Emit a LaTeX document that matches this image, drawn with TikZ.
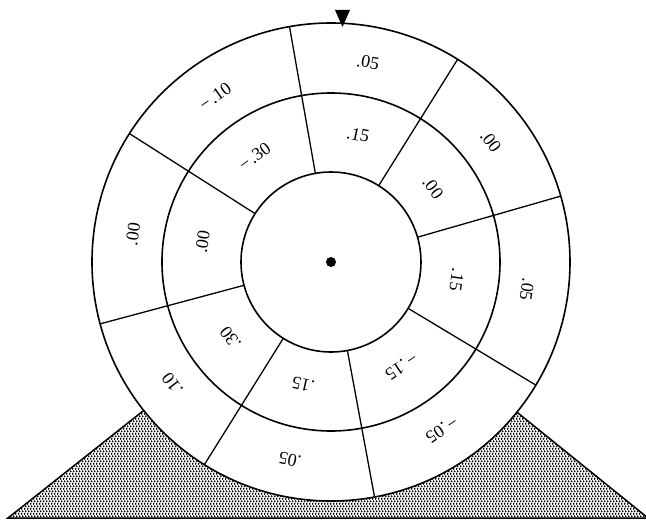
\documentclass[tikz,border=0pt]{standalone}
\usepackage{fontspec}
\setmainfont{Liberation Serif}
\usetikzlibrary{patterns.meta}
\tikzdeclarepattern{
  name=stipple,
  type=uncolored,
  bounding box={(0pt,0pt) and (3pt,5.4pt)},
  tile size={(3pt,5.4pt)},
  code={
    \fill (0.75pt,1.35pt) circle (1.25pt);
    \fill (2.25pt,4.05pt) circle (1.25pt);
  }
}
\begin{document}
\begin{tikzpicture}[x=1pt,y=1pt,
  ring/.style={line width=1.6pt},
  spoke/.style={line width=1.3pt},
  lab/.style={font=\fontsize{18}{18}\selectfont, inner sep=0pt},
  stand/.style={pattern=stipple, pattern color=black, draw=black, line width=1.5pt},
  pointer/.style={fill=black}]
\useasboundingbox (-331,-258) rectangle (315,262);
\fill[white] (-331,-258) rectangle (315,262);
\coordinate (C) at (0,0);
\coordinate (L) at (-323,-256);
\coordinate (R) at (317,-256);
% stand
\path[stand] (C) -- (L) -- (R) -- cycle;
% wheel
\fill[white] (C) circle (239);
\draw[ring] (C) circle (239);
\draw[ring] (C) circle (169);
\draw[ring] (C) circle (90);
\foreach \a in {100,58,16,-31,-79.5,-122,195,147.5}
  \draw[spoke] (\a:90) -- (\a:239);
\fill (C) circle (5);
% pointer
\path[pointer] (4,252) -- (19,252) -- (11.5,235) -- cycle;
% outer ring labels
\foreach \a/\r/\t/\n in {79.5/203/{.05}/o1, 37/200/{.00}/o2, -8/198/{.05}/o3,
  -56.5/201/{−\kern2pt.05}/o4, -101.7/202/{.05}/o5, -142.5/200/{.10}/o6,
  172/200/{.00}/o7, 125/202/{−\kern2pt.10}/o8}
  \node[lab, rotate=\a-90] (\n) at (\a:\r) {\t};
% middle ring labels
\foreach \a/\r/\t/\n in {78/130/{.15}/m1, 36/126/{.00}/m2, -8/127/{.15}/m3,
  -56/126/{−\kern2pt.15}/m4, -102.7/126/{.15}/m5, -143/126/{.30}/m6,
  171/130/{.00}/m7, 126/130/{−\kern2pt.30}/m8}
  \node[lab, rotate=\a-90] (\n) at (\a:\r) {\t};
\end{tikzpicture}
\end{document}
